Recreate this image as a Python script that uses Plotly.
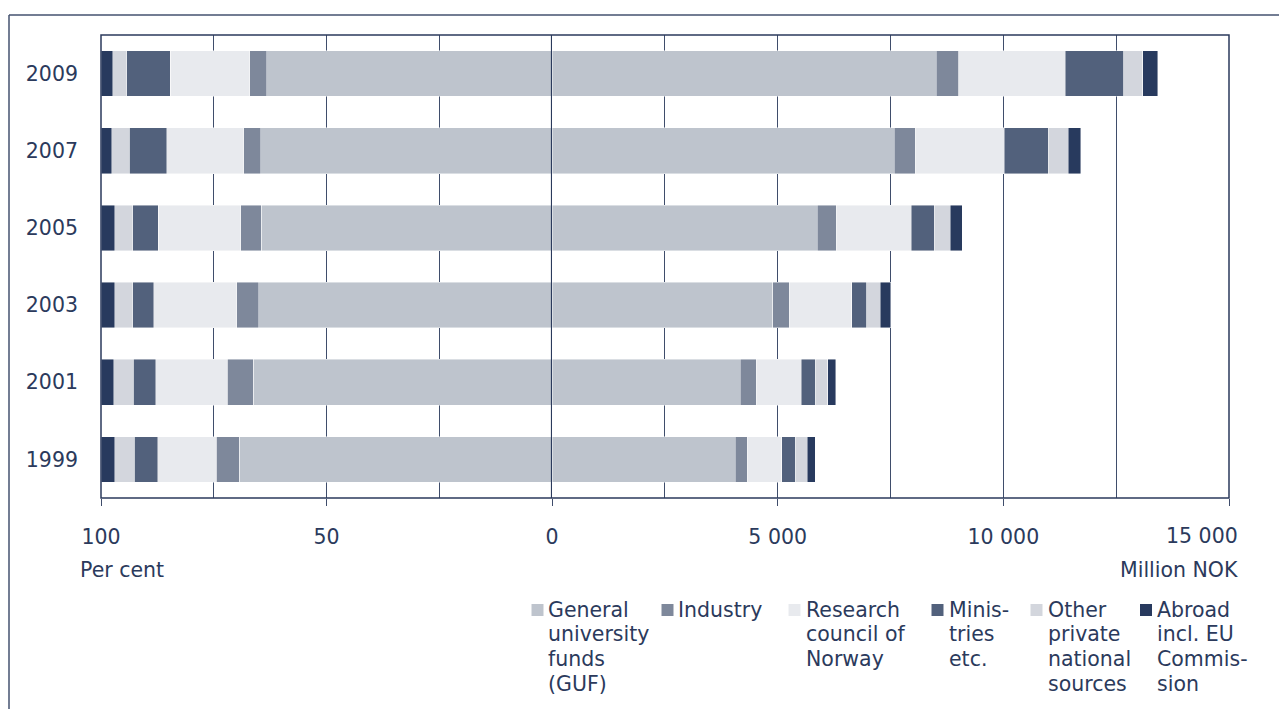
import plotly.graph_objects as go

# ---------------- data ----------------
years = ["1999", "2001", "2003", "2005", "2007", "2009"]

series_names = [
    "General<br>university<br>funds<br>(GUF)",
    "Industry",
    "Research<br>council of<br>Norway",
    "Minis-<br>tries<br>etc.",
    "Other<br>private<br>national<br>sources",
    "Abroad<br>incl. EU<br>Commis-<br>sion",
]

# share of total, per cent
guf_pct = [69.4, 66.2, 65.0, 64.5, 64.6, 63.3]
ind_pct = [5.0, 5.8, 4.9, 4.5, 3.8, 3.7]
rcn_pct = [13.0, 15.9, 18.4, 18.3, 17.0, 17.7]
min_pct = [5.2, 4.9, 4.7, 5.7, 8.3, 9.6]
oth_pct = [4.4, 4.4, 4.0, 3.9, 3.9, 3.1]
abr_pct = [3.0, 2.8, 3.0, 3.1, 2.4, 2.6]

# amounts, million NOK
guf_nok = [4055, 4166, 4888, 5879, 7585, 8516]
ind_nok = [273, 355, 370, 421, 465, 494]
rcn_nok = [760, 997, 1381, 1662, 1965, 2364]
min_nok = [304, 317, 332, 510, 982, 1292]
oth_nok = [266, 273, 304, 355, 443, 421]
abr_nok = [171, 177, 228, 266, 273, 332]

pct_tickvals = [100, 50, 0]
pct_ticktext = ["100", "50", "0"]
pct_minor = [75, 25]
nok_tickvals = [5000, 10000, 15000]
nok_ticktext = ["5 000", "10 000", "15 000"]
nok_minor = [2500, 7500, 12500]

# ---------------- styling ----------------
colors = ["#bec4cd", "#7e889b", "#e8eaee", "#52617c", "#d3d6dd", "#283a5e"]
TEXT = "#2b3a5c"
GRID = "#3f4d6b"
FONT = "DejaVu Sans"
FS = 20.5

W_PAGE, H_PAGE = 1279, 709
L, R, T, B = 101, 1229, 35, 498
PW, PH = R - L, B - T
split = (552 - L) / PW


def px(x):
    return (x - L) / PW


def py(y):
    return (B - y) / PH


pct_series = [guf_pct, ind_pct, rcn_pct, min_pct, oth_pct, abr_pct]
nok_series = [guf_nok, ind_nok, rcn_nok, min_nok, oth_nok, abr_nok]

fig = go.Figure()
for name, col, p, n in zip(series_names, colors, pct_series, nok_series):
    mk = dict(color=col, line=dict(color="rgba(255,255,255,0.55)", width=0.8))
    fig.add_trace(go.Bar(y=years, x=p, orientation="h", xaxis="x", yaxis="y",
                         marker=mk, name=name.replace("<br>", " "), showlegend=False))
    fig.add_trace(go.Bar(y=years, x=n, orientation="h", xaxis="x2", yaxis="y",
                         marker=mk, name=name.replace("<br>", " "), showlegend=False))

tickfont = dict(family=FONT, size=FS, color=TEXT)
common_x = dict(
    showgrid=True, gridcolor=GRID, gridwidth=1, zeroline=False, showline=False,
    ticks="outside", ticklen=7, tickwidth=1, tickcolor=GRID,
    tickfont=tickfont, ticklabelstandoff=13, fixedrange=True,
    automargin=False,
)

# the last tick label ("15 000") is drawn as a separate text so that it can sit
# a little left of its tick, as in the reference
nok_ticktext_disp = nok_ticktext[:-1] + [""]

fig.update_layout(
    width=W_PAGE, height=H_PAGE,
    margin=dict(l=L, r=W_PAGE - R, t=T, b=H_PAGE - B, pad=0, autoexpand=False),
    paper_bgcolor="white", plot_bgcolor="white",
    barmode="stack", bargap=0.41,
    showlegend=False,
    font=dict(family=FONT, size=FS, color=TEXT),
    xaxis=dict(domain=[0, split], range=[100, 0], anchor="y",
               tickmode="array", tickvals=pct_tickvals, ticktext=pct_ticktext,
               minor=dict(tickmode="array", tickvals=pct_minor, showgrid=True,
                          gridcolor=GRID, gridwidth=1, ticks=""),
               **common_x),
    xaxis2=dict(domain=[split, 1], range=[0, 15000], anchor="y",
                tickmode="array", tickvals=nok_tickvals, ticktext=nok_ticktext_disp,
                minor=dict(tickmode="array", tickvals=nok_minor, showgrid=True,
                           gridcolor=GRID, gridwidth=1, ticks=""),
                **common_x),
    yaxis=dict(type="category", categoryorder="array", categoryarray=years,
               domain=[0, 1], anchor="x", showgrid=False, zeroline=False,
               ticks="", tickfont=tickfont, ticklabelstandoff=22, fixedrange=True,
               automargin=False),
)

shapes = []
# plot frame
shapes.append(dict(type="rect", xref="paper", yref="paper", x0=0, x1=1, y0=0, y1=1,
                   line=dict(color=TEXT, width=1.5), layer="above"))
# centre (zero) line
shapes.append(dict(type="line", xref="x", yref="paper", x0=0, x1=0, y0=0, y1=1,
                   line=dict(color=TEXT, width=2.2), layer="above"))
# outer frame (top and left edges)
shapes.append(dict(type="line", xref="paper", yref="paper",
                   x0=px(9), x1=px(1279), y0=py(15), y1=py(15),
                   line=dict(color="#44526f", width=1.5)))
shapes.append(dict(type="line", xref="paper", yref="paper",
                   x0=px(9), x1=px(9), y0=py(15), y1=py(709),
                   line=dict(color="#44526f", width=1.5)))

annotations = [
    dict(text=nok_ticktext[-1], xref="paper", yref="paper", x=px(1240), y=py(535.5),
         xanchor="right", yanchor="middle", showarrow=False,
         font=dict(family=FONT, size=FS, color=TEXT)),
    dict(text="Per cent", xref="paper", yref="paper", x=px(78), y=py(570),
         xanchor="left", yanchor="middle", showarrow=False,
         font=dict(family=FONT, size=FS, color=TEXT)),
    dict(text="Million NOK", xref="paper", yref="paper", x=px(1240), y=py(570),
         xanchor="right", yanchor="middle", showarrow=False,
         font=dict(family=FONT, size=FS, color=TEXT)),
]

# custom legend (one text line per annotation for the tight line spacing)
leg_square_x = [531.5, 661.5, 788.5, 931.5, 1030.5, 1140]
leg_text_x = [547, 677, 805, 947.5, 1046.5, 1156]
LEG_TOP = 595.5
LEG_LINE = 24.7
for name, col, sx, tx in zip(series_names, colors, leg_square_x, leg_text_x):
    shapes.append(dict(type="rect", xref="paper", yref="paper",
                       x0=px(sx), x1=px(sx + 12), y0=py(616), y1=py(604),
                       fillcolor=col, line=dict(width=0)))
    for j, line in enumerate(name.split("<br>")):
        annotations.append(dict(text=line, xref="paper", yref="paper",
                                x=px(tx - 1), y=py(LEG_TOP + j * LEG_LINE),
                                xanchor="left", yanchor="top",
                                align="left", showarrow=False,
                                font=dict(family=FONT, size=FS, color=TEXT)))

fig.update_layout(shapes=shapes, annotations=annotations)

fig.write_html("out.html", config={"displayModeBar": False},
               post_script="document.body.style.margin='0';document.body.style.overflow='hidden';")
